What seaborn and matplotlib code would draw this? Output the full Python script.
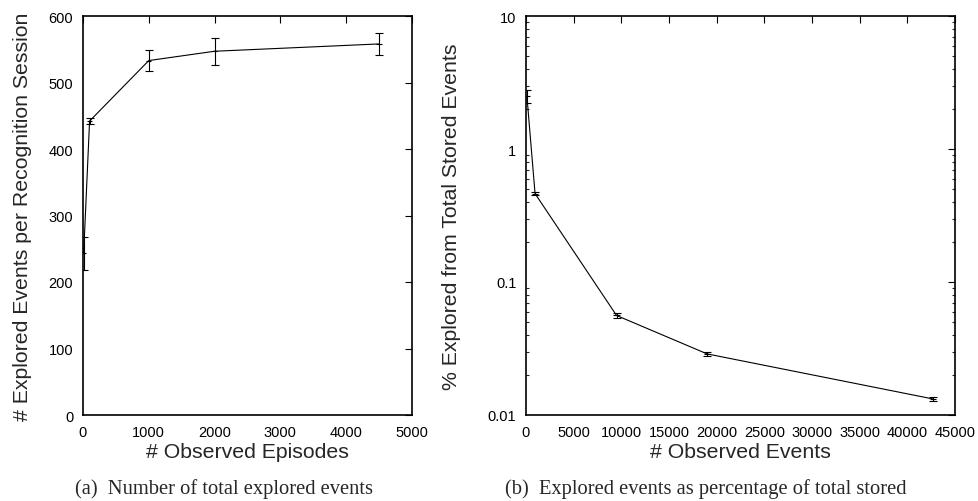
import matplotlib
matplotlib.use("Agg")
import matplotlib.pyplot as plt
import seaborn as sns
import pandas as pd
import numpy as np
from matplotlib.ticker import LogLocator, NullFormatter, FixedLocator

# Panel (a) data
episodes = [10, 100, 1000, 2000, 4500]
explored_mean = [243, 442, 533, 547, 558]
explored_err = [25, 5, 16, 20, 17]

# Panel (b) data
events = [95, 950, 9500, 19000, 42700]
pct_mean = [2.5, 0.462, 0.056, 0.0288, 0.0132]
pct_err = [0.3, 0.01, 0.002, 0.001, 0.0005]

xticks_a = [0, 1000, 2000, 3000, 4000, 5000]
yticks_a = [0, 100, 200, 300, 400, 500, 600]
xticks_b = [0, 5000, 10000, 15000, 20000, 25000, 30000, 35000, 40000, 45000]
yticks_b = [0.01, 0.1, 1, 10]
yticklabels_b = ["0.01", "0.1", "1", "10"]

sns.set_theme(style="white")
plt.rcParams['font.family'] = ['Liberation Sans', 'DejaVu Sans']

fig = plt.figure(figsize=(9.79, 5.02), dpi=100)
W, H = 979, 502
ax1 = fig.add_axes([83 / W, 1 - 416 / H, (412 - 83) / W, (416 - 17) / H])
ax2 = fig.add_axes([526 / W, 1 - 416 / H, (955 - 526) / W, (416 - 17) / H])

df_a = pd.DataFrame({"x": episodes, "y": explored_mean})
df_b = pd.DataFrame({"x": events, "y": pct_mean})

sns.lineplot(data=df_a, x="x", y="y", ax=ax1, color="black", linewidth=0.8)
ax1.errorbar(episodes, explored_mean, yerr=explored_err, fmt="none", ecolor="black",
             elinewidth=0.8, capsize=2.6, capthick=0.8)
ax1.errorbar(episodes, explored_mean, xerr=[40] * len(episodes), fmt="none", ecolor="black",
             elinewidth=0.8)

sns.lineplot(data=df_b, x="x", y="y", ax=ax2, color="black", linewidth=0.8)
ax2.errorbar(events, pct_mean, yerr=pct_err, fmt="none", ecolor="black",
             elinewidth=0.8, capsize=2.6, capthick=0.8)
ax2.errorbar(events, pct_mean, xerr=[350] * len(events), fmt="none", ecolor="black",
             elinewidth=0.8)

ax1.set_xlim(0, 5000)
ax1.set_ylim(0, 600)
ax1.set_xticks(xticks_a)
ax1.set_yticks(yticks_a)

ax2.set_yscale("log")
ax2.set_xlim(0, 45000)
ax2.set_ylim(0.01, 10)
ax2.set_xticks(xticks_b)
ax2.yaxis.set_major_locator(FixedLocator(yticks_b))
ax2.set_yticklabels(yticklabels_b)
ax2.yaxis.set_minor_locator(LogLocator(base=10, subs=np.arange(2, 10), numticks=20))
ax2.yaxis.set_minor_formatter(NullFormatter())

for ax in (ax1, ax2):
    for s in ax.spines.values():
        s.set_color("black")
        s.set_linewidth(1.2)
    ax.tick_params(axis="both", which="major", direction="in", length=5, width=0.8,
                   top=True, right=True, labelsize=10.5, pad=7, colors="black")
    ax.tick_params(axis="y", which="minor", direction="in", length=2.5, width=0.8,
                   left=True, right=True)
    ax.grid(False)

ax1.set_xlabel("# Observed Episodes", fontsize=15.3, labelpad=2)
ax1.set_ylabel("# Explored Events per Recognition Session", fontsize=15.3, labelpad=12)
ax2.set_xlabel("# Observed Events", fontsize=15.3, labelpad=2)
ax2.set_ylabel("% Explored from Total Stored Events", fontsize=15.3, labelpad=19)

fig.text(224 / W, 1 - 489 / H, "(a)  Number of total explored events", ha="center", va="center",
         fontsize=14.8, family=["Liberation Serif", "DejaVu Serif"])
fig.text(706 / W, 1 - 489 / H, "(b)  Explored events as percentage of total stored", ha="center",
         va="center", fontsize=14.8, family=["Liberation Serif", "DejaVu Serif"])

fig.savefig("out.png", dpi=100)
